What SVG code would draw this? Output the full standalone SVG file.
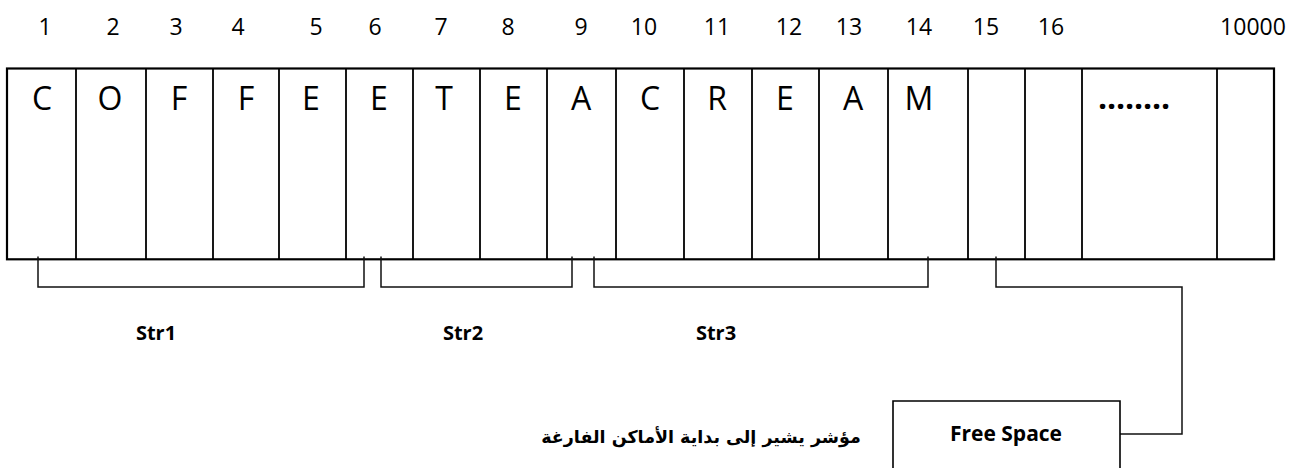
<svg xmlns="http://www.w3.org/2000/svg" width="1308" height="468" viewBox="0 0 1308 468">
<style>
.num{font-family:"Open Sans","Liberation Sans",sans-serif;font-size:23px;fill:#000;text-anchor:middle}
.ch{font-family:"Open Sans","Liberation Sans",sans-serif;font-size:32px;fill:#000;text-anchor:middle}
.lbl{font-family:"Open Sans","Liberation Sans",sans-serif;font-size:20px;font-weight:bold;fill:#000;text-anchor:middle}
.fs{font-size:21px}
.ar{font-family:"DejaVu Sans",sans-serif;font-size:17.5px;font-weight:bold;fill:#000;text-anchor:middle}
.cell{fill:#fff;stroke:#000;stroke-width:2.2}
.div{stroke:#000;stroke-width:1.8}
.conn{fill:none;stroke:#111;stroke-width:1.5}
</style>
<rect width="1308" height="468" fill="#fff"/>
<g id="indices">
<text class="num" x="45" y="35">1</text>
<text class="num" x="113" y="35">2</text>
<text class="num" x="176" y="35">3</text>
<text class="num" x="238" y="35">4</text>
<text class="num" x="316" y="35">5</text>
<text class="num" x="375" y="35">6</text>
<text class="num" x="441" y="35">7</text>
<text class="num" x="508" y="35">8</text>
<text class="num" x="581" y="35">9</text>
<text class="num" x="644" y="35">10</text>
<text class="num" x="717" y="35">11</text>
<text class="num" x="789" y="35">12</text>
<text class="num" x="849" y="35">13</text>
<text class="num" x="919" y="35">14</text>
<text class="num" x="986" y="35">15</text>
<text class="num" x="1051" y="35">16</text>
<text class="num" x="1253" y="35">10000</text>
</g>
<g id="memory">
<rect class="cell" x="7" y="68.5" width="1267" height="190.8"/>
<path class="div" d="M76 68.5V259.3M146 68.5V259.3M213 68.5V259.3M279 68.5V259.3M346 68.5V259.3M413 68.5V259.3M480 68.5V259.3M547 68.5V259.3M616 68.5V259.3M684 68.5V259.3M752 68.5V259.3M819 68.5V259.3M888 68.5V259.3M968 68.5V259.3M1025 68.5V259.3M1082 68.5V259.3M1217 68.5V259.3"/>
<text class="ch" x="42" y="110">C</text>
<text class="ch" x="110" y="110">O</text>
<text class="ch" x="179" y="110">F</text>
<text class="ch" x="246" y="110">F</text>
<text class="ch" x="311" y="110">E</text>
<text class="ch" x="379" y="110">E</text>
<text class="ch" x="444" y="110">T</text>
<text class="ch" x="513" y="110">E</text>
<text class="ch" x="581" y="110">A</text>
<text class="ch" x="650" y="110">C</text>
<text class="ch" x="717" y="110">R</text>
<text class="ch" x="785" y="110">E</text>
<text class="ch" x="853" y="110">A</text>
<text class="ch" x="919" y="110">M</text>
<text class="ch" x="1134" y="109" font-weight="bold" textLength="72" lengthAdjust="spacing">........</text>
</g>
<g id="connectors">
<path class="conn" d="M38 256.5V287H364V256.5"/>
<path class="conn" d="M381 256.5V287H572V256.5"/>
<path class="conn" d="M594 256.5V287H928V256.5"/>
<path class="conn" d="M996 256.5V287H1182V434H1120"/>
</g>
<g id="str1"><text class="lbl" x="156" y="340">Str1</text></g>
<g id="str2"><text class="lbl" x="463" y="340">Str2</text></g>
<g id="str3"><text class="lbl" x="716" y="340">Str3</text></g>
<g id="free-space">
<path fill="#fff" stroke="#000" stroke-width="1.6" d="M893 470V401H1120V470"/>
<text class="lbl fs" x="1006" y="441">Free Space</text>
</g>
<g id="note">
<text class="ar" x="701" y="443">مؤشر يشير إلى بداية الأماكن الفارغة</text>
</g>
</svg>
